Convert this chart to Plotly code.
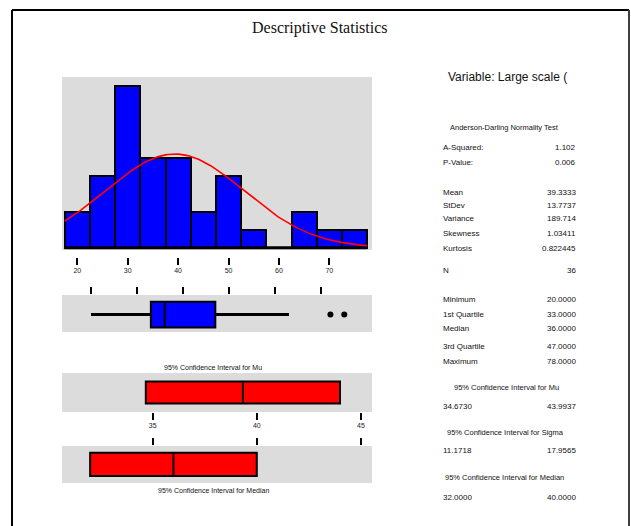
import numpy as np
import plotly.graph_objects as go

# ---- data -------------------------------------------------------------
bin_centers = [20, 25, 30, 35, 40, 45, 50, 55, 60, 65, 70, 75]
bin_counts = [2, 4, 9, 5, 5, 2, 4, 1, 0, 2, 1, 1]
bin_width = 5
hist_ticks = [20, 30, 40, 50, 60, 70]

n_obs = 36
mean_val = 39.3333
stdev_val = 13.7737
variance_val = 189.714
skewness_val = 1.03411
kurtosis_val = 0.822445
a_squared = 1.102
p_value = 0.006
minimum_val = 20.0
q1_val = 33.0
median_val = 36.0
q3_val = 47.0
maximum_val = 78.0

whisker_low = 20
whisker_high = 63
outliers = [72, 75]

ci_mu = [34.6730, 43.9937]
ci_sigma = [11.1718, 17.9565]
ci_median = [32.0, 40.0]
ci_ticks = [35, 40, 45]

# ---- page geometry helpers ------------------------------------------------
W, H = 631, 526


def fx(px):
    return px / W


def fy(py):
    return 1 - py / H


PANEL_X = [fx(62), fx(372)]
GREY = "#DCDCDC"
SANS = "Liberation Sans Narrow, Arial Narrow, Liberation Sans, Arial"
SERIF = "Liberation Serif, Times New Roman, serif"

fig = go.Figure()

# ---- histogram with fitted normal curve -----------------------------------
fig.add_trace(go.Bar(
    x=bin_centers, y=bin_counts, width=bin_width,
    marker=dict(color="#0000FF", line=dict(color="black", width=2)),
    xaxis="x", yaxis="y", showlegend=False, hoverinfo="skip",
))
edges = [bin_centers[0] - bin_width / 2, bin_centers[-1] + bin_width / 2]
fig.add_trace(go.Scatter(
    x=edges, y=[0, 0], mode="lines", line=dict(color="black", width=3),
    xaxis="x", yaxis="y", showlegend=False, hoverinfo="skip",
))
xs = np.linspace(edges[0], edges[1], 200)
scale = n_obs * bin_width / (stdev_val * np.sqrt(2 * np.pi))
ys = scale * np.exp(-0.5 * ((xs - mean_val) / stdev_val) ** 2)
fig.add_trace(go.Scatter(
    x=xs, y=ys, mode="lines", line=dict(color="#FF0000", width=1.6),
    xaxis="x", yaxis="y", showlegend=False, hoverinfo="skip",
))

# ---- box plot ---------------------------------------------------------------
box_y = [0.12, 0.82]
mid_y = 0.47
fig.add_trace(go.Scatter(
    x=[whisker_low, q1_val, None, q3_val, whisker_high],
    y=[mid_y, mid_y, None, mid_y, mid_y], mode="lines",
    line=dict(color="black", width=3), xaxis="x2", yaxis="y2",
    showlegend=False, hoverinfo="skip",
))
fig.add_trace(go.Scatter(
    x=outliers, y=[mid_y] * len(outliers), mode="markers",
    marker=dict(color="black", size=6, symbol="circle"),
    xaxis="x2", yaxis="y2", showlegend=False, hoverinfo="skip",
))

shapes = [
    dict(type="rect", xref="x2", yref="y2", x0=q1_val, x1=q3_val,
         y0=box_y[0], y1=box_y[1], fillcolor="#0000FF",
         line=dict(color="black", width=2)),
    dict(type="line", xref="x2", yref="y2", x0=median_val, x1=median_val,
         y0=box_y[0], y1=box_y[1], line=dict(color="black", width=2)),
    # confidence interval for mu
    dict(type="rect", xref="x3", yref="y3", x0=ci_mu[0], x1=ci_mu[1],
         y0=0.22, y1=0.78, fillcolor="#FF0000",
         line=dict(color="black", width=2)),
    dict(type="line", xref="x3", yref="y3", x0=mean_val, x1=mean_val,
         y0=0.22, y1=0.78, line=dict(color="black", width=2)),
    # confidence interval for median
    dict(type="rect", xref="x4", yref="y4", x0=ci_median[0], x1=ci_median[1],
         y0=0.19, y1=0.82, fillcolor="#FF0000",
         line=dict(color="black", width=2)),
    dict(type="line", xref="x4", yref="y4", x0=median_val, x1=median_val,
         y0=0.19, y1=0.82, line=dict(color="black", width=2)),
    # page frame
    dict(type="line", xref="paper", yref="paper", x0=fx(12), x1=fx(629),
         y0=fy(10), y1=fy(10), line=dict(color="black", width=2)),
    dict(type="line", xref="paper", yref="paper", x0=fx(12), x1=fx(12),
         y0=fy(10), y1=0, line=dict(color="black", width=2)),
    dict(type="line", xref="paper", yref="paper", x0=fx(629), x1=fx(629),
         y0=fy(10), y1=0, line=dict(color="#404040", width=2)),
]

# ---- text -------------------------------------------------------------------
ann = []


def text(px, py, s, size=9, anchor="left", family=SANS, color="#111111"):
    ann.append(dict(x=fx(px), y=fy(py), xref="paper", yref="paper", text=s,
                    showarrow=False, xanchor=anchor, yanchor="middle",
                    font=dict(size=size, family=family, color=color)))


text(320, 28, "Descriptive Statistics", size=16, anchor="center", family=SERIF)
text(446, 77, "Variable: Large scale (", size=12)

text(448, 127, "Anderson-Darling Normality Test", size=7.5)
LX, RX = 441, 578
rows = [
    (147, "A-Squared:", f"{a_squared:.3f}"),
    (162, "P-Value:", f"{p_value:.3f}"),
    (192, "Mean", f"{mean_val:.4f}"),
    (205, "StDev", f"{stdev_val:.4f}"),
    (219, "Variance", f"{variance_val:.3f}"),
    (233, "Skewness", f"{skewness_val:.5f}"),
    (248, "Kurtosis", f"{kurtosis_val:.6f}"),
    (270, "N", f"{n_obs}"),
    (299, "Minimum", f"{minimum_val:.4f}"),
    (314, "1st Quartile", f"{q1_val:.4f}"),
    (328, "Median", f"{median_val:.4f}"),
    (346, "3rd Quartile", f"{q3_val:.4f}"),
    (361, "Maximum", f"{maximum_val:.4f}"),
]
for py, lab, val in rows:
    text(LX, py, lab, size=8)
    text(RX, py, val, size=8, anchor="right")

text(452, 387, "95% Confidence Interval for Mu", size=7.5)
text(LX, 406, f"{ci_mu[0]:.4f}", size=8)
text(RX, 406, f"{ci_mu[1]:.4f}", size=8, anchor="right")
text(445, 432, "95% Confidence Interval for Sigma", size=7.5)
text(LX, 450, f"{ci_sigma[0]:.4f}", size=8)
text(RX, 450, f"{ci_sigma[1]:.4f}", size=8, anchor="right")
text(443, 477, "95% Confidence Interval for Median", size=7.5)
text(LX, 497, f"{ci_median[0]:.4f}", size=8)
text(RX, 497, f"{ci_median[1]:.4f}", size=8, anchor="right")

text(213, 367, "95% Confidence Interval for Mu", size=7, anchor="center")
text(213, 490, "95% Confidence Interval for Median", size=7, anchor="center")

# ---- axes -------------------------------------------------------------------
tick_common = dict(ticks="outside", ticklen=7, tickwidth=2, tickcolor="black",
                   showgrid=False, zeroline=False, showline=False,
                   tickfont=dict(size=7, family=SANS, color="#222222"))
hidden_y = dict(showgrid=False, zeroline=False, showline=False,
                showticklabels=False, ticks="", fixedrange=True)

fig.update_layout(
    width=W, height=H, margin=dict(l=0, r=0, t=0, b=0),
    paper_bgcolor="white", plot_bgcolor=GREY, bargap=0,
    shapes=shapes, annotations=ann,
    xaxis=dict(domain=PANEL_X, range=[16.96, 78.47], anchor="free",
               position=fy(256.5), tickvals=hist_ticks, **tick_common),
    yaxis=dict(domain=[fy(250), fy(77)], range=[-0.13, 9.5], **hidden_y),
    xaxis2=dict(domain=PANEL_X, range=[13.70, 81.03], anchor="y2", side="top",
                tickvals=hist_ticks, showticklabels=False,
                **{k: v for k, v in tick_common.items() if k != "tickfont"}),
    yaxis2=dict(domain=[fy(332), fy(295)], range=[0, 1], **hidden_y),
    xaxis3=dict(domain=PANEL_X, range=[30.65, 45.53], anchor="y3",
                tickvals=ci_ticks, **tick_common),
    yaxis3=dict(domain=[fy(412), fy(373)], range=[0, 1], **hidden_y),
    xaxis4=dict(domain=PANEL_X, range=[30.65, 45.53], anchor="y4", side="top",
                tickvals=ci_ticks, showticklabels=False,
                **{k: v for k, v in tick_common.items() if k != "tickfont"}),
    yaxis4=dict(domain=[fy(483), fy(446)], range=[0, 1], **hidden_y),
)

fig.write_html("out.html")
